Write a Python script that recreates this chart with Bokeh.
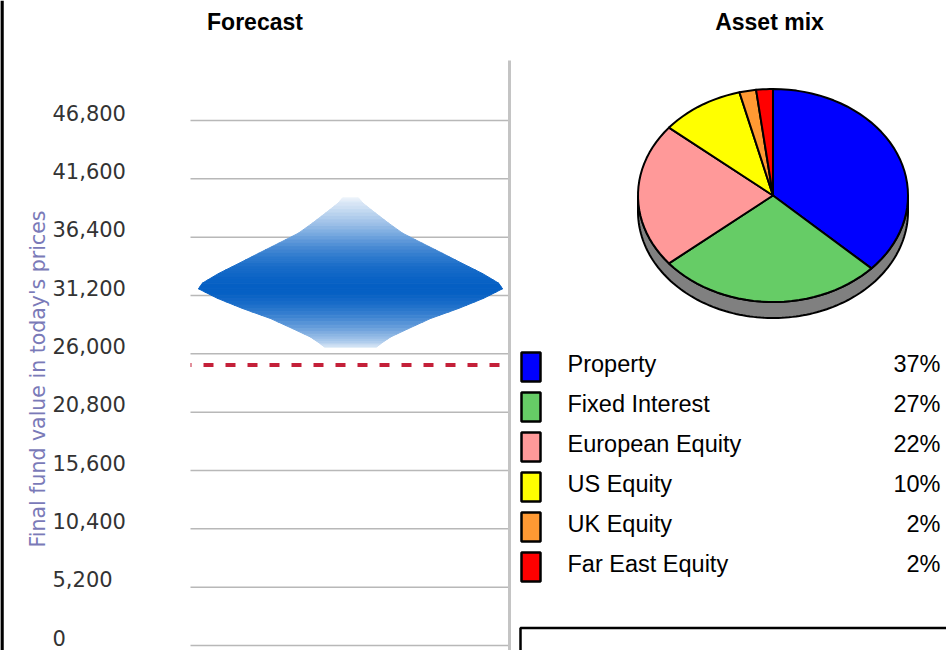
import numpy as np
from bokeh.plotting import figure
from bokeh.models import Range1d
from bokeh.core.properties import value
from bokeh.embed import file_html
from bokeh.resources import INLINE

# ---------------- data ----------------
TICK_VALUES = [0, 5200, 10400, 15600, 20800, 26000, 31200, 36400, 41600, 46800]
TICK_LABELS = ["0", "5,200", "10,400", "15,600", "20,800", "26,000",
               "31,200", "36,400", "41,600", "46,800"]
TARGET_VALUE = 25000
Y_TITLE = "Final fund value in today's prices"

# forecast fan: value levels (top -> bottom), half width (% of plot width), band shade
FAN_LEVELS = [39900, 39450, 38550, 37650, 36750, 35850, 34950, 34050, 33150,
              32300, 31800, 30950, 30050, 29150, 28250, 27500, 26900, 26600]
FAN_HALF_WIDTH_PCT = [2.5, 3.8, 7.8, 11.9, 16.3, 22.5, 28.8, 35.0, 41.3,
                      46.3, 47.5, 41.6, 33.8, 25.0, 18.1, 12.5, 9.4, 8.1]
FAN_BAND_SHADE = [0.10, 0.20, 0.32, 0.45, 0.60, 0.74, 0.85, 0.93, 0.98,
                  1.00, 1.00, 0.93, 0.82, 0.68, 0.52, 0.36, 0.22]

ASSETS = ["Property", "Fixed Interest", "European Equity", "US Equity",
          "UK Equity", "Far East Equity"]
SHARES = [37, 27, 22, 10, 2, 2]
COLORS = ["#0000ff", "#66cc66", "#ff9999", "#ffff00", "#ff9933", "#ff0000"]

# ---------------- layout constants (screen pixels) ----------------
W, H = 946, 650
GX0, GX1 = 190, 510          # forecast plot horizontal extent
ZERO_Y, TOP_Y = 645, 120     # screen y of 0 and 46,800
PX_PER_VAL = (ZERO_Y - TOP_Y) / TICK_VALUES[-1]
Y_START = (ZERO_Y - H) / PX_PER_VAL
Y_END = ZERO_Y / PX_PER_VAL

p = figure(width=W, height=H, x_range=Range1d(0, W), y_range=Range1d(Y_START, Y_END),
           x_axis_type=None, y_axis_type=None, toolbar_location=None,
           output_backend="svg", min_border=0, outline_line_color=None,
           background_fill_color="white", border_fill_color="white")
p.extra_y_ranges = {"px": Range1d(H, 0)}

# left border
p.segment(x0=[1.5], y0=[0], x1=[1.5], y1=[H], y_range_name="px",
          line_color="black", line_width=3.5)

# titles
p.text(x=[254.5, 769], y=[21.5, 21.5], text=["Forecast", "Asset mix"], y_range_name="px",
       text_font=value("Liberation Sans"), text_font_style="bold", text_font_size="23px",
       text_align="center", text_baseline="middle", text_color="black")

# ---------------- forecast panel ----------------
p.segment(x0=GX0, x1=GX1, y0=TICK_VALUES, y1=TICK_VALUES,
          line_color="#b8b8b8", line_width=1.5)

p.text(x=52, y=TICK_VALUES, text=TICK_LABELS, text_font=value("DejaVu Sans"),
       text_font_size="21px", text_align="left", text_baseline="middle",
       y_offset=-8, text_color="#333333")

p.text(x=[37.5], y=[378.5], text=[Y_TITLE], angle=np.pi / 2, y_range_name="px",
       text_font=value("DejaVu Sans"), text_font_size="20.5px", text_align="center",
       text_baseline="middle", text_color="#7a7ab8")

# fan: trapezoid bands between read levels, each shaded in 3 strips for a soft gradient
cx_f = (GX0 + GX1) / 2
span = GX1 - GX0
hw = [w / 100 * span for w in FAN_HALF_WIDTH_PCT]
base = np.array([6, 96, 196])
nb = len(FAN_BAND_SHADE)
fan_xs, fan_ys, fan_cols = [], [], []
for i in range(nb):
    a, b = FAN_LEVELS[i], FAN_LEVELS[i + 1]
    s_prev = FAN_BAND_SHADE[i - 1] if i > 0 else FAN_BAND_SHADE[i] * 0.5
    s_next = FAN_BAND_SHADE[i + 1] if i < nb - 1 else FAN_BAND_SHADE[i] * 0.5
    strip_shades = [(s_prev + 2 * FAN_BAND_SHADE[i]) / 3, FAN_BAND_SHADE[i],
                    (s_next + 2 * FAN_BAND_SHADE[i]) / 3]
    for k in range(3):
        f0, f1 = k / 3, (k + 1) / 3
        y0, y1 = a + (b - a) * f0, a + (b - a) * f1
        w0, w1 = hw[i] + (hw[i + 1] - hw[i]) * f0, hw[i] + (hw[i + 1] - hw[i]) * f1
        fan_xs.append([cx_f - w0, cx_f + w0, cx_f + w1, cx_f - w1])
        fan_ys.append([y0, y0, y1, y1])
        s = strip_shades[k]
        c = (255 * (1 - s) + base * s).round().astype(int)
        fan_cols.append("#%02x%02x%02x" % tuple(c))
p.patches(fan_xs, fan_ys, fill_color=fan_cols, line_color=fan_cols, line_width=1)

p.segment(x0=[GX0], x1=[GX1], y0=[TARGET_VALUE], y1=[TARGET_VALUE],
          line_color="#c42039", line_width=4, line_dash="10 12", line_dash_offset=9)

p.segment(x0=[509], y0=[60], x1=[509], y1=[H], y_range_name="px",
          line_color="#c4c4c4", line_width=3)

# ---------------- asset mix pie ----------------
PCX, PCY, PRX, PRY, DEPTH = 772.5, 195, 135, 106.5, 16

th = np.linspace(np.pi / 2, 3 * np.pi / 2, 120)
tx = PCX + PRX * np.sin(th)
ty = PCY - PRY * np.cos(th)
side_x = list(tx) + list(tx[::-1])
side_y = list(ty) + list((ty + DEPTH)[::-1])
p.patch(side_x, side_y, y_range_name="px", fill_color="#808080",
        line_color="black", line_width=2)

cum = np.concatenate([[0], np.cumsum(SHARES)]) / sum(SHARES) * 2 * np.pi
wx, wy = [], []
for i in range(len(SHARES)):
    n = max(4, int(SHARES[i]) + 4)
    t = np.linspace(cum[i], cum[i + 1], n)
    wx.append([PCX] + list(PCX + PRX * np.sin(t)))
    wy.append([PCY] + list(PCY - PRY * np.cos(t)))
p.patches(wx, wy, y_range_name="px", fill_color=COLORS, line_color="black",
          line_width=2, line_join="round")

# ---------------- legend ----------------
LEG_TOP, ROW_H, SW_H = 352, 40, 29
tops = [LEG_TOP + ROW_H * i for i in range(len(ASSETS))]
p.quad(left=521, right=540, top=tops, bottom=[t + SW_H for t in tops],
       y_range_name="px", fill_color=COLORS, line_color="black", line_width=2.5)
centers = [t + SW_H / 2 for t in tops]
p.text(x=567, y=centers, text=ASSETS, y_range_name="px",
       text_font=value("Liberation Sans"), text_font_size="23.5px",
       text_align="left", text_baseline="middle", y_offset=-3.5, text_color="black")
p.text(x=940, y=centers, text=[f"{s}%" for s in SHARES], y_range_name="px",
       text_font=value("Liberation Sans"), text_font_size="23.5px",
       text_align="right", text_baseline="middle", y_offset=-3.5, text_color="black")

# bottom box
p.quad(left=[520], right=[960], top=[627.5], bottom=[700], y_range_name="px",
       fill_color=None, line_color="black", line_width=2.5)

open("out.html", "w").write(file_html(p, INLINE))
